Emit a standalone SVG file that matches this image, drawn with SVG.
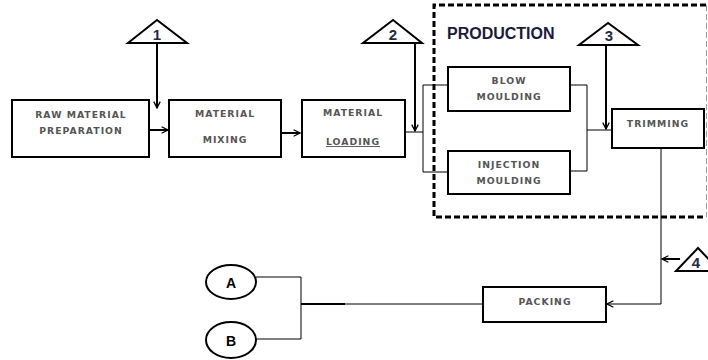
<svg xmlns="http://www.w3.org/2000/svg" width="708" height="360" viewBox="0 0 708 360">
<defs>
<marker id="arr" viewBox="0 0 10 10" refX="9" refY="5" markerWidth="8" markerHeight="8" orient="auto" markerUnits="userSpaceOnUse">
<path d="M1,1 L9,5 L1,9" fill="none" stroke="#000" stroke-width="1.6"/>
</marker>
</defs>
<style>
.box{fill:#fff;stroke:#000;stroke-width:2}
.lbl{font-family:"DejaVu Sans",sans-serif;font-size:9.3px;font-weight:bold;fill:#555;text-anchor:middle;letter-spacing:1px}
.num{font-family:"Liberation Sans",sans-serif;font-size:15px;font-weight:bold;fill:#1f2a44;text-anchor:middle}
.ltr{font-family:"Liberation Sans",sans-serif;font-size:14px;font-weight:bold;fill:#000;text-anchor:middle}
.tri{fill:#fff;stroke:#000;stroke-width:2}
.thick{fill:none;stroke:#000;stroke-width:2}
.thin{fill:none;stroke:#000;stroke-width:1}
.circ{fill:#fff;stroke:#000;stroke-width:2}
</style>
<rect width="708" height="360" fill="#fff"/>
<g id="production">
<polyline points="706,5 434,5 434,217 706,217" fill="none" stroke="#000" stroke-width="3" stroke-dasharray="6,3"/>
<line x1="706.5" y1="5" x2="706.5" y2="217" stroke="#999" stroke-width="1" stroke-dasharray="6,3"/>
<text x="447" y="39" font-family="Liberation Sans,sans-serif" font-size="16" font-weight="bold" fill="#1a1a3a">PRODUCTION</text>
</g>
<g id="connectors">
<line class="thick" x1="157" y1="43" x2="157" y2="108" marker-end="url(#arr)"/>
<line class="thick" x1="149" y1="130" x2="168" y2="130" marker-end="url(#arr)"/>
<line class="thick" x1="281" y1="133" x2="300" y2="133" marker-end="url(#arr)"/>
<polyline class="thin" points="405,132 423,132"/>
<polyline class="thin" points="448,85 423,85 423,172 448,172"/>
<line class="thick" x1="415" y1="43" x2="415" y2="131" marker-end="url(#arr)"/>
<polyline class="thin" points="570,85 587,85 587,171 570,171"/>
<line class="thin" x1="587" y1="130" x2="612" y2="130"/>
<line class="thick" x1="606" y1="45" x2="606" y2="129" marker-end="url(#arr)"/>
<polyline class="thin" points="661,148 661,304 607,304" marker-end="url(#arr)"/>
<line class="thick" x1="680" y1="259" x2="662" y2="259" marker-end="url(#arr)"/>
<line class="thin" x1="483" y1="304" x2="301" y2="304"/>
<line stroke="#000" stroke-width="1.8" x1="301" y1="304" x2="345" y2="304"/>
<polyline class="thin" points="256,277 301,277 301,339 256,339"/>
</g>
<g id="tri1"><polygon class="tri" points="157,20 128,43 187,43"/><text class="num" x="157" y="40">1</text></g>
<g id="tri2"><polygon class="tri" points="393,20 363,43 422,43"/><text class="num" x="393" y="40">2</text></g>
<g id="tri3"><polygon class="tri" points="608,23 579,45 638,45"/><text class="num" x="609" y="41">3</text></g>
<g id="tri4"><polygon class="tri" points="698,248 676,271 720,271"/><text class="num" x="696" y="268">4</text></g>
<g id="raw"><rect class="box" x="12" y="100" width="137" height="57"/><text class="lbl" x="81" y="118">RAW MATERIAL</text><text class="lbl" x="81" y="134">PREPARATION</text></g>
<g id="mixing"><rect class="box" x="169" y="100" width="112" height="57"/><text class="lbl" x="225" y="117">MATERIAL</text><text class="lbl" x="225" y="143">MIXING</text></g>
<g id="loading"><rect class="box" x="302" y="100" width="103" height="57"/><text class="lbl" x="353" y="116">MATERIAL</text><text class="lbl" x="353" y="145" text-decoration="underline">LOADING</text></g>
<g id="blow"><rect class="box" x="448" y="67" width="122" height="44"/><text class="lbl" x="509" y="84">BLOW</text><text class="lbl" x="509" y="100">MOULDING</text></g>
<g id="injection"><rect class="box" x="448" y="151" width="122" height="43"/><text class="lbl" x="509" y="168">INJECTION</text><text class="lbl" x="509" y="184">MOULDING</text></g>
<g id="trimming"><rect class="box" x="612" y="109" width="92" height="39"/><text class="lbl" x="658" y="127">TRIMMING</text></g>
<g id="packing"><rect class="box" x="483" y="287" width="123" height="35"/><text class="lbl" x="545" y="305">PACKING</text></g>
<g id="A"><ellipse class="circ" cx="231" cy="282" rx="25" ry="17"/><text class="ltr" x="231" y="288">A</text></g>
<g id="B"><ellipse class="circ" cx="231" cy="340" rx="25" ry="18"/><text class="ltr" x="231" y="346">B</text></g>
</svg>
